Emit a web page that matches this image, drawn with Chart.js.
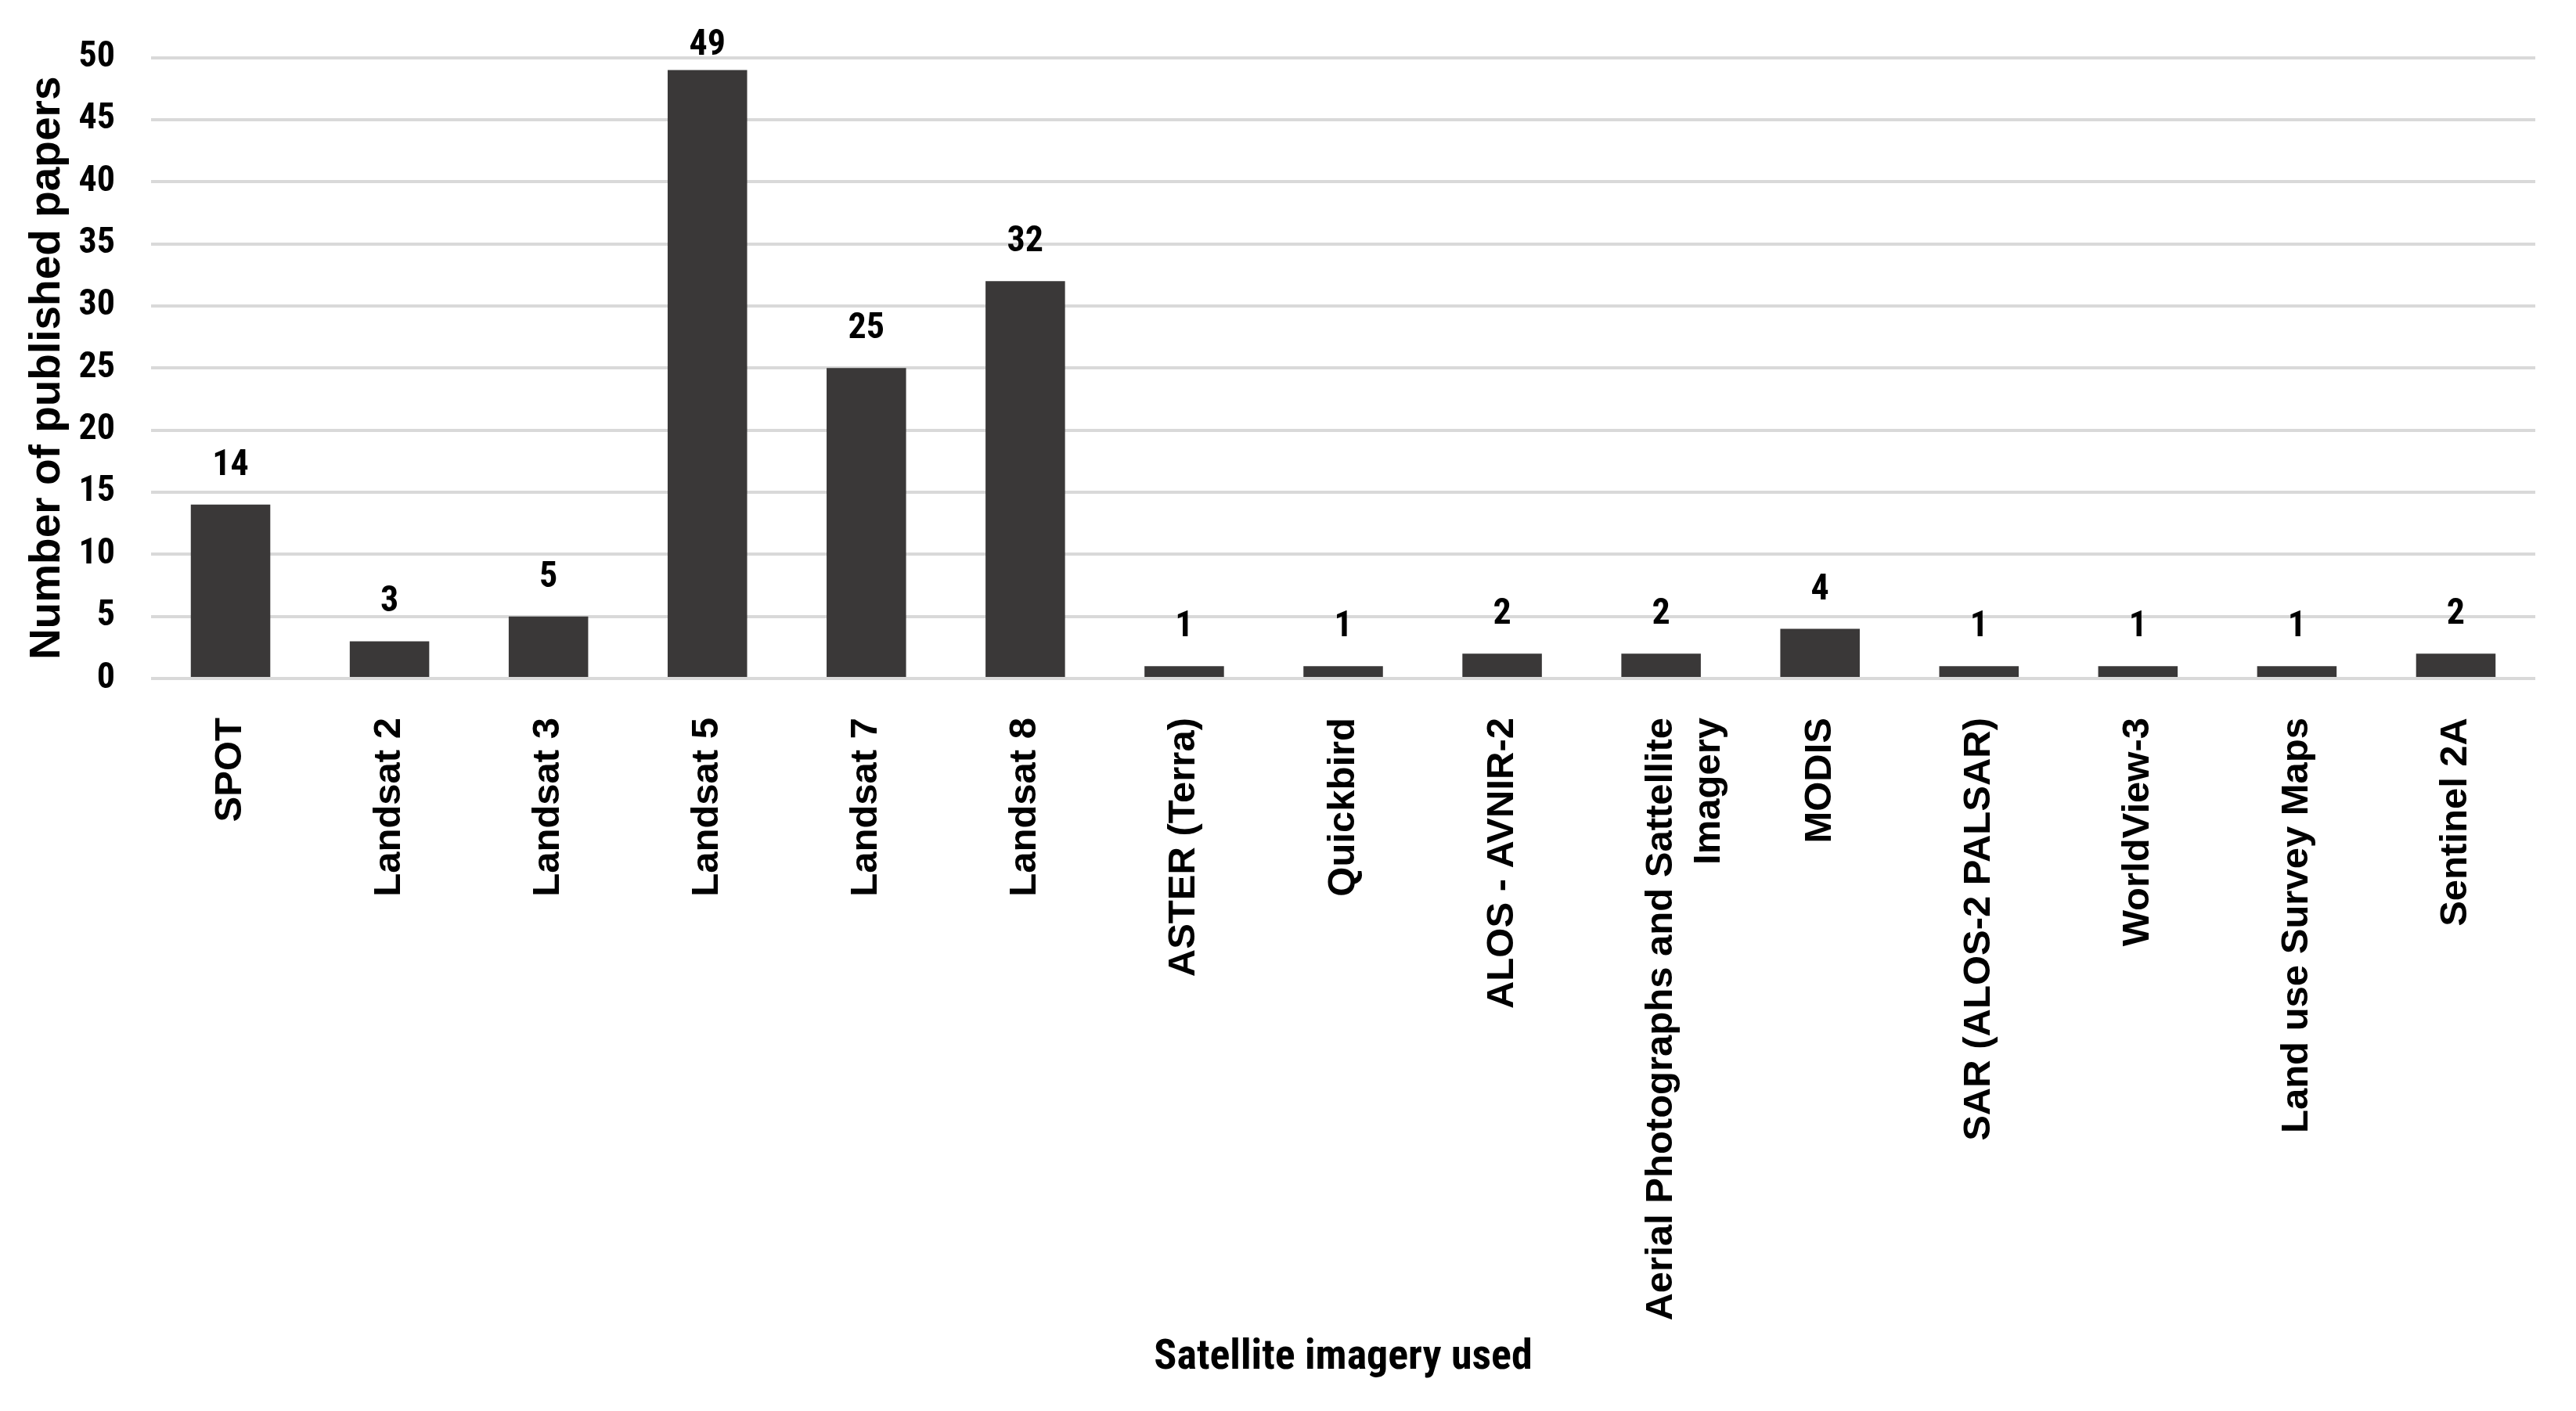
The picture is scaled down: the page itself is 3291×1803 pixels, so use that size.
<!DOCTYPE html>
<html lang="en">
<head>
<meta charset="UTF-8">
<title>Satellite imagery used</title>
<script src="https://cdn.jsdelivr.net/npm/chart.js"></script>
<style>
    html, body {
      margin: 0;
      padding: 0;
      background: #ffffff;
    }
    #wrap {
      width: 3291px;
      height: 1803px;
    }
</style>
</head>
<body>
<div id="wrap"><canvas id="papersChart"></canvas></div>

<script>
    const categories = [
      'SPOT', 'Landsat 2', 'Landsat 3', 'Landsat 5', 'Landsat 7', 'Landsat 8',
      'ASTER (Terra)', 'Quickbird', 'ALOS - AVNIR-2',
      ['Aerial Photographs and Sattellite', 'Imagery'],
      'MODIS', 'SAR (ALOS-2 PALSAR)', 'WorldView-3', 'Land use Survey Maps', 'Sentinel 2A'
    ];
    const paperCounts = [14, 3, 5, 49, 25, 32, 1, 1, 2, 2, 4, 1, 1, 1, 2];
    const yTicks = [0, 5, 10, 15, 20, 25, 30, 35, 40, 45, 50];

    // horizontal text in the original is condensed, rotated text is not
    const narrow = "'Roboto Condensed', Roboto, sans-serif";
    const wide = "'Liberation Sans', Arial, sans-serif";

    // value labels above each bar
    const valueLabels = {
      id: 'valueLabels',
      afterDatasetsDraw(chart) {
        const ctx = chart.ctx;
        const meta = chart.getDatasetMeta(0);
        const top = chart.chartArea.top;
        ctx.save();
        ctx.font = 'bold 46px ' + narrow;
        ctx.fillStyle = '#000000';
        ctx.textAlign = 'center';
        ctx.textBaseline = 'alphabetic';
        meta.data.forEach((bar, i) => {
          const y = Math.max(bar.y - 38, top - 4);
          ctx.fillText(String(paperCounts[i]), bar.x, y);
        });
        ctx.restore();
      }
    };

    new Chart(document.getElementById('papersChart').getContext('2d'), {
      type: 'bar',
      data: {
        labels: categories,
        datasets: [{
          data: paperCounts,
          backgroundColor: '#3a3838',
          borderWidth: 0,
          barPercentage: 0.5,
          categoryPercentage: 1.0
        }]
      },
      options: {
        responsive: true,
        maintainAspectRatio: false,
        animation: false,
        layout: {
          padding: { top: 70, right: 52, bottom: 35, left: 28 }
        },
        plugins: {
          legend: { display: false },
          tooltip: { enabled: false }
        },
        scales: {
          x: {
            afterFit(scale) {
              scale.height = 901;
            },
            grid: { display: false },
            border: { display: false },
            ticks: {
              color: '#000000',
              font: { family: wide, size: 49, weight: 'bold', lineHeight: 1.25 },
              maxRotation: 90,
              minRotation: 90,
              autoSkip: false,
              padding: 42
            },
            title: {
              display: true,
              text: 'Satellite imagery used',
              color: '#000000',
              font: { family: narrow, size: 54, weight: 'bold' },
              padding: { top: 22, bottom: 0 }
            }
          },
          y: {
            min: 0,
            max: 50,
            afterBuildTicks(axis) {
              axis.ticks = yTicks.map(v => ({ value: v }));
            },
            afterFit(scale) {
              scale.width = 165;
            },
            grid: { color: '#d9d9d9', lineWidth: 4, drawTicks: false },
            border: { display: false },
            ticks: {
              color: '#000000',
              font: { family: narrow, size: 46, weight: 'bold' },
              padding: 46
            },
            title: {
              display: true,
              text: 'Number of published papers',
              color: '#000000',
              font: { family: wide, size: 55, weight: 'bold' },
              padding: { top: 0, bottom: 4 }
            }
          }
        }
      },
      plugins: [valueLabels]
    });
</script>
</body>
</html>
